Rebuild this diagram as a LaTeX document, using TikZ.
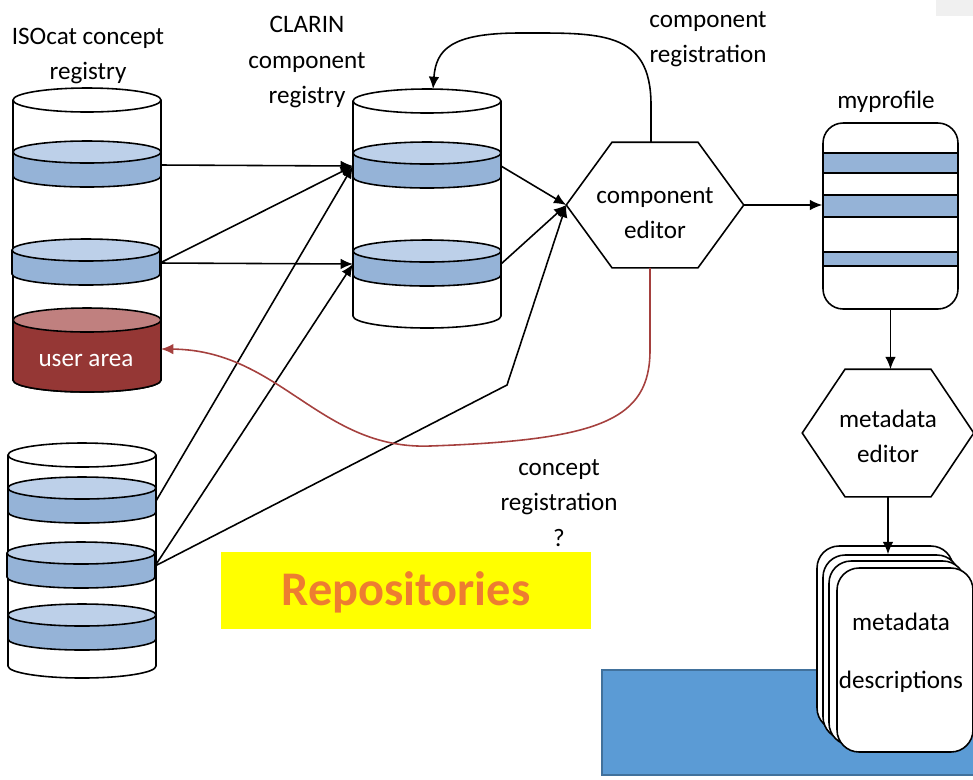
\documentclass[tikz,border=0pt]{standalone}
\usepackage{fontspec}
\setmainfont{Carlito}
\usetikzlibrary{arrows.meta,calc,positioning}

\definecolor{disctop}{HTML}{BDD0E9}
\definecolor{discside}{HTML}{95B3D7}
\definecolor{usertop}{HTML}{C0807F}
\definecolor{userside}{HTML}{953735}
\definecolor{regred}{HTML}{A5403E}
\definecolor{repoorange}{HTML}{ED7D31}
\definecolor{repoyellow}{HTML}{FFFF00}
\definecolor{panelblue}{HTML}{5B9BD5}
\definecolor{panelline}{HTML}{41719C}
\definecolor{cornergray}{HTML}{F0F0F0}

\begin{document}
\begin{tikzpicture}[x=0.02cm, y=-0.02cm, line width=0.9pt,
    every node/.style={font=\fontsize{14.3}{20}\selectfont, inner sep=0pt, align=center}]
  \tikzset{flow/.style={-{Latex[length=7pt,width=6pt]}},
    hexbox/.style={minimum width=3.52cm, minimum height=2.48cm},
    card/.style={draw, fill=white, rounded corners=0.44cm,
      minimum width=2.72cm, minimum height=3.68cm}}
  \useasboundingbox (0,0) rectangle (973,779);
  \fill[cornergray] (936,0) rectangle (973,16);

  % cylinder bodies
  \foreach \l/\t/\b in {13/100/380, 353/101/316, 8/455/666}{
    \draw[fill=white] (\l+74,\b) ellipse [x radius=74, y radius=12];
    \fill[white] (\l,\t) rectangle (\l+148,\b);
    \draw (\l,\t) -- (\l,\b) (\l+148,\t) -- (\l+148,\b);
    \draw[fill=white] (\l+74,\t) ellipse [x radius=74, y radius=12];
  }
  % user area
  \draw[fill=userside] (87,380) ellipse [x radius=74, y radius=12];
  \fill[userside] (13,320) rectangle (161,380);
  \draw (13,320) -- (13,380) (161,320) -- (161,380);
  \draw[fill=usertop] (87,320) ellipse [x radius=74, y radius=12];
  \node[text=white] (ua) at (86,360) {user area};
  \coordinate (ua-e) at (161,349);

  % discs
  \foreach \n/\l/\t in {iso1/13/152, iso2/12/250, cl1/353/153, cl2/353/251,
                        rp1/8/488, rp2/7/553, rp3/8/615}{
    \draw[fill=discside] (\l+74,\t+24) ellipse [x radius=74, y radius=11];
    \fill[discside] (\l,\t) rectangle (\l+148,\t+24);
    \draw (\l,\t) -- (\l,\t+24) (\l+148,\t) -- (\l+148,\t+24);
    \draw[fill=disctop] (\l+74,\t) ellipse [x radius=74, y radius=11];
    \coordinate (\n-w) at (\l,\t+13);
    \coordinate (\n-e) at (\l+148,\t+13);
  }

  % labels
  \node (isolabel) at (88,56) {ISOcat concept\\registry};
  \node (cllabel) at (307,62) {CLARIN\\component\\registry};
  \node (reglabel) at (708,39) {component\\registration};
  \node (mplabel) at (886,102) {myprofile};
  \node (conlabel) at (559,503) {concept\\registration\\?};

  % editors
  \node[hexbox] (ce) at (655,205) {};
  \node[hexbox, minimum width=3.4cm, minimum height=2.52cm] (me) at (888,433) {};
  \foreach \h in {ce,me}
    \draw (\h.west) -- ($(\h.north)+(-43,0)$) -- ($(\h.north)+(43,0)$) -- (\h.east)
      -- ($(\h.south)+(43,0)$) -- ($(\h.south)+(-43,0)$) -- cycle;
  \node (cetext) at (655,213) {component\\editor};
  \node (metext) at (888,436) {metadata\\editor};

  % myprofile
  \node[draw, fill=white, rounded corners=0.4cm, minimum width=2.7cm, minimum height=3.72cm] (mp) at (890.5,216) {};
  \foreach \a/\b in {153/173, 195/217, 252/266}
    \draw[fill=discside] (823,\a) rectangle (958,\b);

  % repositories
  \fill[repoyellow] (221,552) rectangle (591,629);
  \node[text=repoorange, font=\fontsize{27.5}{30}\selectfont\bfseries] (repo) at (406,592) {Repositories};

  % descriptions
  \draw[fill=panelblue, draw=panelline] (602,670) rectangle (980,775);
  \foreach \n/\x/\y in {c0/885/638, c1/891/647, c2/897/653, c3/905/660}
    \node[card] (\n) at (\x,\y) {};
  \node (mdtxt) at (901,653) {metadata\\[13pt]descriptions};

  % connectors
  \coordinate (bend) at (507,385);
  \coordinate (cltop) at (433,89);
  \draw[flow] (iso1-e) -- (cl1-w);
  \draw[flow] (iso2-e) -- (cl1-w);
  \draw[flow] (iso2-e) -- (cl2-w);
  \draw[flow] (rp1-e) -- (cl1-w);
  \draw[flow] (rp2-e) -- (cl2-w);
  \draw[flow] (rp2-e) -- (bend) -- (ce.west);
  \draw[flow] (cl1-e) -- (ce.west);
  \draw[flow] (cl2-e) -- (ce.west);
  \draw[flow] (ce.east) -- (ce.east -| mp.west);
  \draw[flow] (mp.south) -- (mp.south |- me.north);
  \draw[flow] (me.south) -- (me.south |- c1.north);
  \draw[flow] ($(ce.north)+(-4,0)$) -- (651,105) .. controls (651,30) and (600,33) .. (520,33)
    .. controls (450,33) and (436,50) .. (cltop);
  \draw[flow, regred] ($(ce.south)+(-5,0)$) -- (650,350) .. controls (650,420) and (600,440) .. (430,446)
    .. controls (320,450) and (280,350) .. (ua-e);
\end{tikzpicture}
\end{document}
